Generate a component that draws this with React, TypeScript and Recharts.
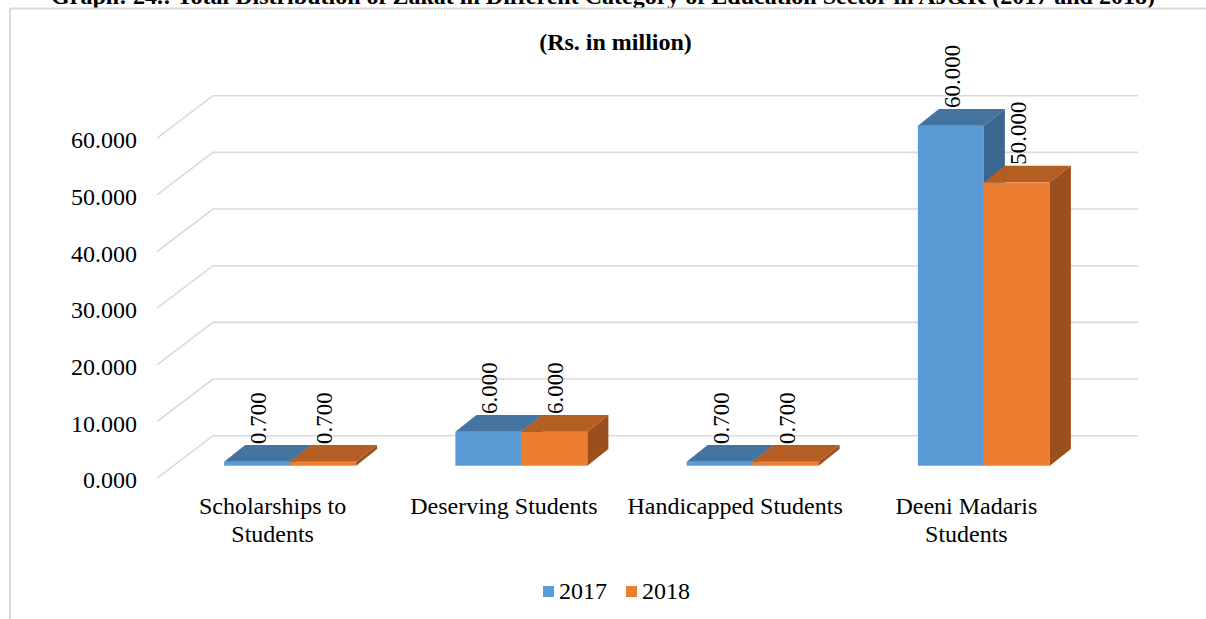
import React from "react";
import { BarChart, Bar, XAxis, YAxis, CartesianGrid, LabelList } from "recharts";

const categories = [
  "Scholarships to Students",
  "Deserving Students",
  "Handicapped Students",
  "Deeni Madaris Students",
];
const categoryLines = [
  ["Scholarships to", "Students"],
  ["Deserving Students"],
  ["Handicapped Students"],
  ["Deeni Madaris", "Students"],
];
const values2017 = [0.7, 6, 0.7, 60];
const values2018 = [0.7, 6, 0.7, 50];
const yTicks = [0, 10, 20, 30, 40, 50, 60];
const seriesNames = ["2017", "2018"];
const seriesFront = ["#5B9BD5", "#ED7D31"];
const seriesTop = ["#4574A0", "#B55E24"];
const seriesSide = ["#3B6690", "#9A4F1D"];

const TITLE =
  "Graph: 24.: Total Distribution of Zakat in Different Category of Education Sector in AJ&K (2017 and 2018)";
const SUBTITLE = "(Rs. in million)";

const data = categories.map((c, i) => ({
  name: c,
  v2017: values2017[i],
  v2018: values2018[i],
}));

const FONT = "'Liberation Serif', 'Times New Roman', serif";
const DX = 21;
const DY = -16.7;
const GRID = "#D9D9D9";

const makeShape = (idx: number) => (props: any) => {
  const { x, y, width, height } = props;
  if (width == null || height == null) return <g />;
  const w = width;
  const h = height;
  return (
    <g>
      <rect x={x} y={y} width={w} height={h} fill={seriesFront[idx]} />
      <polygon
        points={`${x},${y} ${x + DX},${y + DY} ${x + w + DX},${y + DY} ${x + w},${y}`}
        fill={seriesTop[idx]}
      />
      <polygon
        points={`${x + w},${y} ${x + w + DX},${y + DY} ${x + w + DX},${y + h + DY} ${x + w},${y + h}`}
        fill={seriesSide[idx]}
      />
    </g>
  );
};

const renderLabel = (props: any) => {
  const { x, y, width, value } = props;
  const bx = x + width / 2 + 9;
  const sy = y + DY - 1;
  return (
    <text
      x={bx}
      y={sy}
      transform={`rotate(-90 ${bx} ${sy})`}
      fontSize={23}
      fontFamily={FONT}
      fill="#000"
      textAnchor="start"
    >
      {Number(value).toFixed(3)}
    </text>
  );
};

const gridLine = (props: any) => {
  const y = props.y1;
  return (
    <polyline
      key={props.key ?? `g-${y}`}
      points={`157,${y + 12.5} 213,${y - 30} 1138,${y - 30}`}
      fill="none"
      stroke={GRID}
      strokeWidth={1.6}
    />
  );
};

const YTick = (props: any) => {
  const { y, payload } = props;
  return (
    <text
      x={137}
      y={y + 22.5}
      textAnchor="end"
      fontSize={24}
      fontFamily={FONT}
      fill="#000"
    >
      {Number(payload.value).toFixed(3)}
    </text>
  );
};

const XTick = (props: any) => {
  const { x, index } = props;
  const lines = categoryLines[index] || [];
  const cx = x - 17.4;
  return (
    <text textAnchor="middle" fontSize={24} fontFamily={FONT} fill="#000">
      {lines.map((l, i) => (
        <tspan key={i} x={cx} y={513.5 + i * 28}>
          {l}
        </tspan>
      ))}
    </text>
  );
};

export default function App() {
  return (
    <div
      style={{
        position: "fixed",
        left: 0,
        top: 0,
        width: 1206,
        height: 619,
        overflow: "hidden",
        background: "#fff",
      }}
    >
      <svg
        width={1206}
        height={619}
        style={{ position: "absolute", left: 0, top: 0 }}
      >
        <text
          x={603}
          y={4}
          textAnchor="middle"
          fontSize={24}
          fontWeight="bold"
          fontFamily={FONT}
          fill="#000"
        >
          {TITLE}
        </text>
        <line x1={10} y1={8.5} x2={1206} y2={8.5} stroke={GRID} strokeWidth={2} />
        <line x1={10} y1={8.5} x2={10} y2={619} stroke={GRID} strokeWidth={2} />
        <text
          x={615.5}
          y={50}
          textAnchor="middle"
          fontSize={24}
          fontWeight="bold"
          fontFamily={FONT}
          fill="#000"
        >
          {SUBTITLE}
        </text>
      </svg>
      <div style={{ position: "absolute", left: 0, top: 0 }}>
        <BarChart
          width={1206}
          height={619}
          data={data}
          margin={{ top: 125.7, right: 106.6, bottom: 123.3, left: 114.4 }}
          barCategoryGap="21.5%"
          barGap={0}
        >
          <CartesianGrid vertical={false} horizontal={gridLine} />
          <XAxis
            dataKey="name"
            axisLine={false}
            tickLine={false}
            tick={<XTick />}
            height={30}
            interval={0}
          />
          <YAxis
            domain={[0, 60]}
            ticks={yTicks}
            axisLine={false}
            tickLine={false}
            tick={<YTick />}
            width={60}
            interval={0}
          />
          <Bar
            dataKey="v2017"
            name={seriesNames[0]}
            fill={seriesFront[0]}
            shape={makeShape(0)}
            isAnimationActive={false}
          >
            <LabelList dataKey="v2017" content={renderLabel} />
          </Bar>
          <Bar
            dataKey="v2018"
            name={seriesNames[1]}
            fill={seriesFront[1]}
            shape={makeShape(1)}
            isAnimationActive={false}
          >
            <LabelList dataKey="v2018" content={renderLabel} />
          </Bar>
        </BarChart>
      </div>
      <div
        style={{
          position: "absolute",
          left: 543,
          top: 578,
          display: "flex",
          alignItems: "center",
          fontFamily: FONT,
          fontSize: 24,
          lineHeight: "26px",
          color: "#000",
        }}
      >
        {seriesNames.map((n, i) => (
          <div
            key={n}
            style={{ display: "flex", alignItems: "center", marginRight: 19 }}
          >
            <div
              style={{
                width: 11,
                height: 11,
                background: seriesFront[i],
                marginRight: 5,
              }}
            />
            <span>{n}</span>
          </div>
        ))}
      </div>
    </div>
  );
}
